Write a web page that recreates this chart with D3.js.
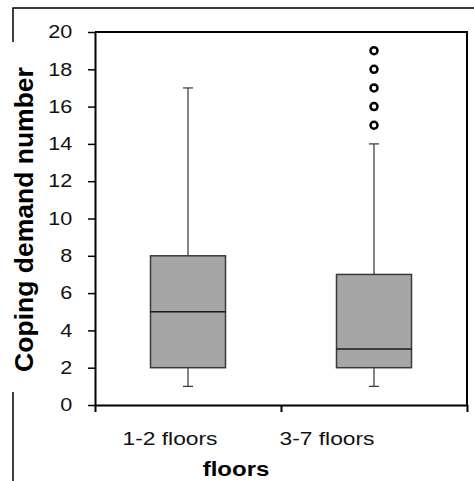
<!DOCTYPE html>
<html>
<head>
<meta charset="utf-8">
<script src="https://cdn.jsdelivr.net/npm/d3@7"></script>
<style>
  body { margin: 0; background: #fff; }
  svg { display: block; font-family: "Liberation Sans", Arial, sans-serif; }
</style>
</head>
<body>
<svg width="474" height="481"></svg>
<script>
// chart data
var categories = ["1-2 floors", "3-7 floors"];
var whiskerLow = [1, 1];
var q1 = [2, 2];
var median = [5, 3];
var q3 = [8, 7];
var whiskerHigh = [17, 14];
var outliers = [[], [15, 16, 17, 18, 19]];
var yTicks = [0, 2, 4, 6, 8, 10, 12, 14, 16, 18, 20];

var svg = d3.select("svg"),
    width = +svg.attr("width"),
    height = +svg.attr("height");

// plot area edges
var plotLeft = 95, plotRight = 467, plotTop = 32, plotBottom = 405;

// outer frame, the y title sits on a white patch over its left side
svg.append("rect")
    .attr("x", 13).attr("y", 8)
    .attr("width", 480).attr("height", 480)
    .attr("fill", "none").attr("stroke", "#000").attr("stroke-width", 1.5);
svg.append("rect")
    .attr("x", 0).attr("y", 42)
    .attr("width", 42).attr("height", 350)
    .attr("fill", "#fff");

var y = d3.scaleLinear().domain([0, 20]).range([plotBottom, plotTop]);
var x = d3.scaleBand().domain(categories).range([plotLeft, plotRight]);
var xEdge = d3.scaleLinear().domain([0, categories.length]).range([plotLeft, plotRight]);

// plot frame (top and right)
svg.append("path")
    .attr("d", "M" + plotLeft + "," + plotTop + "H" + plotRight + "V" + plotBottom)
    .attr("fill", "none").attr("stroke", "#000").attr("stroke-width", 2);

// y axis
var yAxis = svg.append("g")
    .attr("transform", "translate(" + plotLeft + ",0)")
    .call(d3.axisLeft(y).tickValues(yTicks).tickSize(7).tickPadding(12).tickSizeOuter(0));
yAxis.select(".domain").attr("stroke-width", 2);
yAxis.selectAll(".tick line").attr("stroke-width", 1.5);
yAxis.selectAll(".tick text")
    .attr("font-size", 18).attr("fill", "#111")
    .attr("transform", "scale(1.2,1)");

// x axis, ticks between the groups
var xAxis = svg.append("g")
    .attr("transform", "translate(0," + plotBottom + ")")
    .call(d3.axisBottom(xEdge).tickValues(d3.range(categories.length + 1)).tickFormat("").tickSize(7).tickSizeOuter(0));
xAxis.select(".domain").attr("stroke-width", 2);
xAxis.selectAll(".tick line").attr("stroke-width", 2);

// category labels (sit a bit left of the boxes, like the original)
var labelX = [170, 327];
svg.selectAll(".cat")
    .data(categories)
    .enter().append("text")
    .attr("class", "cat")
    .attr("text-anchor", "middle")
    .attr("font-size", 19).attr("fill", "#111")
    .attr("transform", function(d, i) { return "translate(" + labelX[i] + ",445) scale(1.2,1)"; })
    .text(function(d) { return d; });

// axis titles
svg.append("text")
    .attr("text-anchor", "middle")
    .attr("font-size", 20).attr("font-weight", "bold")
    .attr("transform", "translate(236,476) scale(1.2,1)")
    .text("floors");
svg.append("text")
    .attr("text-anchor", "middle")
    .attr("font-size", 26.5).attr("font-weight", "bold")
    .attr("transform", "translate(33,219.5) rotate(-90)")
    .text("Coping demand number");

// boxes
var boxW = 75, capW = 10;
var g = svg.selectAll(".box")
    .data(categories)
    .enter().append("g")
    .attr("class", "box")
    .attr("transform", function(d) { return "translate(" + (x(d) + x.bandwidth() / 2) + ",0)"; });

g.append("line")
    .attr("y1", function(d, i) { return y(whiskerHigh[i]); })
    .attr("y2", function(d, i) { return y(whiskerLow[i]); })
    .attr("stroke", "#333").attr("stroke-width", 1.2);
g.append("rect")
    .attr("x", -boxW / 2)
    .attr("y", function(d, i) { return y(q3[i]); })
    .attr("width", boxW)
    .attr("height", function(d, i) { return y(q1[i]) - y(q3[i]); })
    .attr("fill", "#a6a6a6").attr("stroke", "#3a3a3a").attr("stroke-width", 1.5);
g.append("line")
    .attr("x1", -boxW / 2).attr("x2", boxW / 2)
    .attr("y1", function(d, i) { return y(median[i]); })
    .attr("y2", function(d, i) { return y(median[i]); })
    .attr("stroke", "#1a1a1a").attr("stroke-width", 1.5);
[whiskerHigh, whiskerLow].forEach(function(arr) {
  g.append("line")
      .attr("x1", -capW / 2).attr("x2", capW / 2)
      .attr("y1", function(d, i) { return y(arr[i]); })
      .attr("y2", function(d, i) { return y(arr[i]); })
      .attr("stroke", "#333").attr("stroke-width", 1.2);
});

// outliers
g.selectAll("circle")
    .data(function(d, i) { return outliers[i]; })
    .enter().append("circle")
    .attr("cy", function(v) { return y(v); })
    .attr("r", 3.5)
    .attr("fill", "#fff").attr("stroke", "#000").attr("stroke-width", 2.5);
</script>
</body>
</html>
